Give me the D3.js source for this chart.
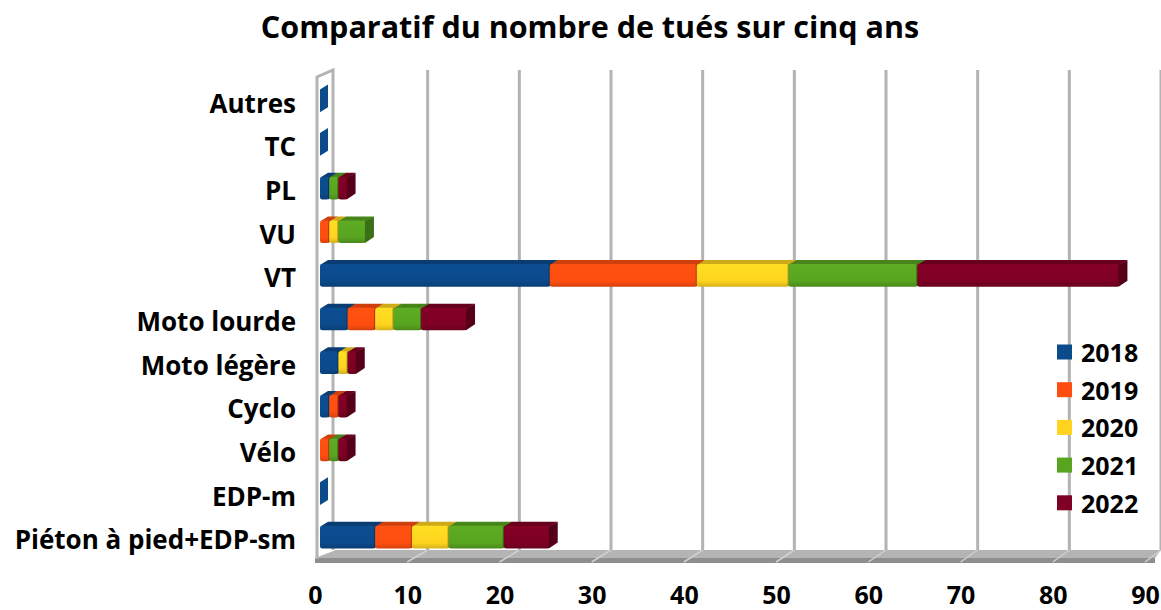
<!DOCTYPE html>
<html>
<head>
<meta charset="utf-8">
<script src="https://cdn.jsdelivr.net/npm/d3@7"></script>
<style>
  body { margin: 0; background: #fff; }
  text { font-family: "Open Sans", Lato, sans-serif; font-weight: 700; fill: #000; }
</style>
</head>
<body>
<div id="chart"></div>
<script>
// data
let categories = ["Autres", "TC", "PL", "VU", "VT", "Moto lourde", "Moto légère",
  "Cyclo", "Vélo", "EDP-m", "Piéton à pied+EDP-sm"];
let years = ["2018", "2019", "2020", "2021", "2022"];
let v2018 = [0, 0, 1, 0, 25, 3, 2, 1, 0, 0, 6];
let v2019 = [0, 0, 0, 1, 16, 3, 0, 1, 1, 0, 4];
let v2020 = [0, 0, 0, 1, 10, 2, 1, 0, 0, 0, 4];
let v2021 = [0, 0, 1, 3, 14, 3, 0, 0, 1, 0, 6];
let v2022 = [0, 0, 1, 0, 22, 5, 1, 1, 1, 0, 5];
let xTicks = [0, 10, 20, 30, 40, 50, 60, 70, 80, 90];

let colors = ["#0b4a8b", "#ff4e10", "#ffd31f", "#58a420", "#7e0024"];
let seriesVals = [v2018, v2019, v2020, v2021, v2022];

let width = 1161;
let height = 610;
let wallTop = 70;
let floorBack = 550;
let floorFront = 562;
let depthX = 8;   // bar depth offset
let depthY = -5;

let svg = d3.select("#chart").append("svg")
  .attr("width", width)
  .attr("height", height);

// scales: back wall, front edge and bar plane
let xBack = d3.scaleLinear().domain([0, 90]).range([336, 1161]);
let xFront = d3.scaleLinear().domain([0, 90]).range([315, 1145]);
let xBar = d3.scaleLinear().domain([0, 90]).range([320, 1147]);
let yBand = d3.scaleBand().domain(categories).range([79, 559])
  .paddingInner(0.48).paddingOuter(0.24);

// title
svg.append("text")
  .attr("x", 590).attr("y", 38)
  .attr("text-anchor", "middle")
  .style("font-size", "30.5px")
  .text("Comparatif du nombre de tués sur cinq ans");

// floor
svg.append("polygon")
  .attr("points", [[xBack(0), floorBack], [1161, floorBack], [1155, floorFront - 4], [xFront(0), floorFront - 4]].join(" "))
  .attr("fill", "#b4b4b4");
svg.append("rect")
  .attr("x", xFront(0)).attr("y", floorFront - 4)
  .attr("width", 1155 - xFront(0)).attr("height", 5)
  .attr("fill", "#8e8e8e");

// floor diagonals
svg.selectAll(".floorLine").data(xTicks.slice(1)).enter()
  .append("line")
  .attr("class", "floorLine")
  .attr("x1", d => xBack(d)).attr("y1", floorBack)
  .attr("x2", d => xFront(d)).attr("y2", floorFront)
  .attr("stroke", "#d0d0d0").attr("stroke-width", 1.5);

// back wall gridlines
svg.selectAll(".grid").data(xTicks.slice(1)).enter()
  .append("line")
  .attr("class", "grid")
  .attr("x1", d => xBack(d)).attr("x2", d => xBack(d))
  .attr("y1", wallTop).attr("y2", floorBack)
  .attr("stroke", "#b3b3b3").attr("stroke-width", 3);

// left wall
let wall = svg.append("g").attr("fill", "none").attr("stroke", "#b3b3b3").attr("stroke-width", 3);
wall.append("path").attr("d", "M317," + (floorFront - 3) + "L317,77L333,70L333," + floorBack);

// bars
function shade(c, k) {
  return d3.color(c).darker(k).formatHex();
}

let defs = svg.append("defs");
colors.forEach(function (c, i) {
  let g = defs.append("linearGradient").attr("id", "grad" + i)
    .attr("x1", 0).attr("y1", 0).attr("x2", 0).attr("y2", 1);
  g.append("stop").attr("offset", "0%").attr("stop-color", d3.color(c).brighter(0.15).formatHex());
  g.append("stop").attr("offset", "75%").attr("stop-color", c);
  g.append("stop").attr("offset", "100%").attr("stop-color", shade(c, 0.5));
});

let barG = svg.append("g");
categories.forEach(function (cat, ci) {
  let y0 = yBand(cat);
  let h = yBand.bandwidth();
  let acc = 0;
  let total = d3.sum(seriesVals, s => s[ci]);
  if (total === 0) {
    let xs = xBar(0);
    barG.append("polygon")
      .attr("points", [[xs, y0], [xs + depthX, y0 + depthY], [xs + depthX, y0 + h + depthY], [xs, y0 + h]].join(" "))
      .attr("fill", colors[0]);
    return;
  }
  seriesVals.forEach(function (s, si) {
    let v = s[ci];
    if (v === 0) return;
    let xa = xBar(acc);
    let xb = xBar(acc + v);
    acc += v;
    // top face
    barG.append("polygon")
      .attr("points", [[xa, y0 + 1], [xa + depthX, y0 + depthY + 1], [xb + depthX, y0 + depthY + 1], [xb, y0 + 1]].join(" "))
      .attr("fill", shade(colors[si], 0.6));
    // front face
    barG.append("rect")
      .attr("x", xa).attr("y", y0)
      .attr("width", xb - xa).attr("height", h)
      .attr("rx", 2.5)
      .attr("fill", "url(#grad" + si + ")");
    // side face
    barG.append("polygon")
      .attr("points", [[xb - 1, y0 + 1], [xb + depthX, y0 + depthY + 1], [xb + depthX, y0 + h + depthY - 1], [xb - 1, y0 + h]].join(" "))
      .attr("fill", shade(colors[si], 1.1));
  });
});

// category labels
svg.selectAll(".catLabel").data(categories).enter()
  .append("text")
  .attr("class", "catLabel")
  .attr("x", 296)
  .attr("y", d => yBand(d) + yBand.bandwidth() / 2 + 2)
  .attr("dominant-baseline", "central")
  .attr("text-anchor", "end")
  .style("font-size", "26px")
  .text(d => d);

// x axis labels
let xAxis = d3.axisBottom(xFront).tickValues(xTicks).tickSize(0).tickPadding(0);
let axisG = svg.append("g")
  .attr("transform", "translate(0,586)")
  .call(xAxis);
axisG.select(".domain").remove();
axisG.selectAll("text")
  .style("font-family", "'Open Sans', Lato, sans-serif")
  .style("font-weight", 700)
  .style("font-size", "25px")
  .attr("fill", "#000");

// legend
let legend = svg.append("g").attr("transform", "translate(1057,352)");
let items = legend.selectAll("g").data(years).enter().append("g")
  .attr("transform", (d, i) => "translate(0," + i * 37.7 + ")");
items.append("rect")
  .attr("x", 0).attr("y", -7.5).attr("width", 15).attr("height", 15)
  .attr("fill", (d, i) => colors[i]);
items.append("text")
  .attr("x", 24).attr("y", 0)
  .attr("dominant-baseline", "central")
  .style("font-size", "25px")
  .text(d => d);
</script>
</body>
</html>
